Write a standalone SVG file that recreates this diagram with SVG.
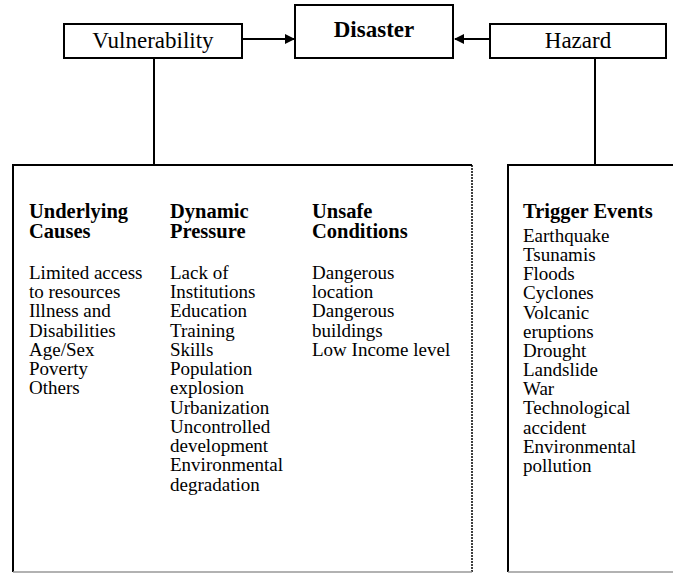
<svg xmlns="http://www.w3.org/2000/svg" width="673" height="573" viewBox="0 0 673 573">
<style>
.box{fill:#fff;stroke:#000;stroke-width:2}
.t{font-family:"Liberation Serif","Times New Roman",serif;fill:#000}
.lbl{font-size:23px}
.lblb{font-size:23px;font-weight:bold}
.h{font-size:20.5px;font-weight:bold}
.b{font-size:19px}
.ln{stroke:#000;stroke-width:2;fill:none}
.gr{stroke:#999;stroke-width:1.5;fill:none}
</style>
<defs>
<marker id="ah" markerWidth="10" markerHeight="10" refX="9" refY="5" orient="auto" markerUnits="userSpaceOnUse">
<path d="M0,0 L10,5 L0,10 z" fill="#000"/>
</marker>
</defs>
<rect width="673" height="573" fill="#fff"/>
<g id="connectors">
<line class="ln" x1="242" y1="39" x2="294" y2="39" marker-end="url(#ah)"/>
<line class="ln" x1="490" y1="39" x2="455" y2="39" marker-end="url(#ah)"/>
<line class="ln" x1="154" y1="58" x2="154" y2="165"/>
<line class="ln" x1="595" y1="58" x2="595" y2="165"/>
</g>
<g id="vulnerability">
<rect class="box" x="64" y="24" width="178" height="34"/>
<text class="t lbl" x="153" y="48" text-anchor="middle">Vulnerability</text>
</g>
<g id="disaster">
<rect class="box" x="295" y="5" width="158" height="53"/>
<text class="t lblb" x="374" y="37" text-anchor="middle">Disaster</text>
</g>
<g id="hazard">
<rect class="box" x="490" y="24" width="176" height="34"/>
<text class="t lbl" x="578" y="48" text-anchor="middle">Hazard</text>
</g>
<g id="vulnerability-details">
<path class="ln" d="M13,572 V165 H472"/>
<line x1="472" y1="165" x2="472" y2="572" stroke="#000" stroke-width="1.5" stroke-dasharray="2,1"/>
<line class="gr" x1="13" y1="572" x2="472" y2="572"/>
<text class="t h" x="29" y="218">Underlying</text>
<text class="t h" x="29" y="238">Causes</text>
<text class="t b"><tspan x="29" y="279">Limited access</tspan><tspan x="29" y="298">to resources</tspan><tspan x="29" y="317">Illness and</tspan><tspan x="29" y="337">Disabilities</tspan><tspan x="29" y="356">Age/Sex</tspan><tspan x="29" y="375">Poverty</tspan><tspan x="29" y="394">Others</tspan></text>
<text class="t h" x="170" y="218">Dynamic</text>
<text class="t h" x="170" y="238">Pressure</text>
<text class="t b"><tspan x="170" y="279">Lack of</tspan><tspan x="170" y="298">Institutions</tspan><tspan x="170" y="317">Education</tspan><tspan x="170" y="337">Training</tspan><tspan x="170" y="356">Skills</tspan><tspan x="170" y="375">Population</tspan><tspan x="170" y="394">explosion</tspan><tspan x="170" y="414">Urbanization</tspan><tspan x="170" y="433">Uncontrolled</tspan><tspan x="170" y="452">development</tspan><tspan x="170" y="471">Environmental</tspan><tspan x="170" y="491">degradation</tspan></text>
<text class="t h" x="312" y="218">Unsafe</text>
<text class="t h" x="312" y="238">Conditions</text>
<text class="t b"><tspan x="312" y="279">Dangerous</tspan><tspan x="312" y="298">location</tspan><tspan x="312" y="317">Dangerous</tspan><tspan x="312" y="337">buildings</tspan><tspan x="312" y="356">Low Income level</tspan></text>
</g>
<g id="hazard-details">
<path class="ln" d="M508,572 V165 H673"/>
<line class="gr" x1="508" y1="572" x2="673" y2="572"/>
<text class="t h" x="523" y="218">Trigger Events</text>
<text class="t b"><tspan x="523" y="242">Earthquake</tspan><tspan x="523" y="261">Tsunamis</tspan><tspan x="523" y="280">Floods</tspan><tspan x="523" y="299">Cyclones</tspan><tspan x="523" y="319">Volcanic</tspan><tspan x="523" y="338">eruptions</tspan><tspan x="523" y="357">Drought</tspan><tspan x="523" y="376">Landslide</tspan><tspan x="523" y="395">War</tspan><tspan x="523" y="414">Technological</tspan><tspan x="523" y="434">accident</tspan><tspan x="523" y="453">Environmental</tspan><tspan x="523" y="472">pollution</tspan></text>
</g>
</svg>
